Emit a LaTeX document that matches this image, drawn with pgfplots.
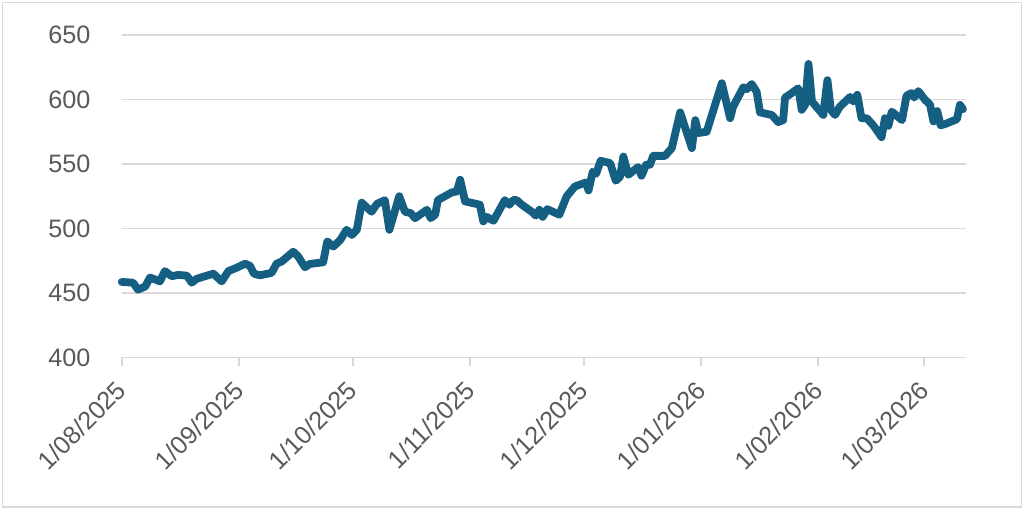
\documentclass[border=0pt]{standalone}
\usepackage{pgfplots}
\pgfplotsset{compat=1.18}
\usepackage{fontspec}
\setmainfont{Liberation Sans}
\definecolor{linec}{HTML}{156082}
\definecolor{gridc}{HTML}{D9D9D9}
\definecolor{labc}{HTML}{595959}
\begin{document}
\begin{tikzpicture}
\useasboundingbox (0,0) rectangle (512pt,254.5pt);
\draw[gridc, line width=0.6pt] (1.2pt,1pt) rectangle (510.6pt,253.4pt);
\begin{axis}[
  at={(60.85pt,75.75pt)}, anchor=south west,
  scale only axis, width=422.15pt, height=161.25pt,
  xmin=0, xmax=223, ymin=400, ymax=650,
  clip=false,
  axis x line*=bottom,
  axis y line*=left,
  x axis line style={draw=gridc, line width=0.9pt, -},
  y axis line style={draw=none},
  ytick={400,450,...,650},
  ymajorgrids, grid style={gridc, line width=0.9pt},
  xtick={0,31,61,92,122,153,184,212},
  xticklabels={1/08/2025,1/09/2025,1/10/2025,1/11/2025,1/12/2025,1/01/2026,1/02/2026,1/03/2026},
  major x tick style={gridc, line width=0.9pt},
  tick align=outside, major tick length=4pt,
  ytick style={draw=none},
  /pgf/number format/assume math mode=true,
  ticklabel style={font=\fontsize{12.6}{14}\selectfont, text=labc},
  yticklabel style={anchor=east, inner sep=0pt, xshift=-11.5pt},
  xticklabel style={anchor=east, inner sep=0pt, yshift=-10pt, rotate=45},
  yticklabels={400,450,500,550,600,650},
]
\addplot[linec, line width=3.9pt, line join=round, line cap=round] coordinates {
(0,458.6) (3.0,458) (4.3,452.6) (6.2,455) (7.5,462) (10.1,459) (11.4,467) (13.2,463)
(14.9,464) (17.2,463.5) (18.5,458) (19.8,461) (24.2,465) (26.4,459) (28.2,467) (29.9,469)
(32.6,472.7) (33.9,471) (34.9,465) (36.5,463.7) (39.6,465.6) (40.9,472.7) (42.3,474.5)
(45.3,482) (46.6,478.4) (48.4,470) (49.7,472.5) (53.2,473.8) (54.3,490) (55.9,486)
(57.7,491) (59.4,499) (60.8,495) (62.1,499) (63.4,520) (66.0,513) (67.4,519) (69.5,522)
(70.7,499) (73.3,525) (74.8,513) (76.3,512) (77.5,508) (80.6,514.5) (81.6,508) (82.8,510.7)
(83.5,522) (87.2,528) (88.5,528.7) (89.4,537.8) (90.7,521) (93.8,519) (94.6,518.4)
(95.5,505.5) (96.4,509) (98.2,506) (101.2,522) (102.4,518.4) (103.4,522) (104.3,522)
(105.7,518.4) (108.3,513) (109.4,510) (110.3,514.5) (111.2,509) (112.4,515) (115.6,510.7)
(117.5,524.8) (119.7,532.6) (122.6,535.7) (123.3,529.5) (124.4,544) (125.3,542.4)
(126.5,552.5) (129.0,550.7) (130.5,537) (131.6,540) (132.5,555.8) (133.8,541.6)
(136.4,547.6) (137.3,540.9) (138.5,549.4) (139.5,549.4) (140.4,556.3) (143.5,556.3)
(145.3,562.3) (147.5,590) (150.6,562.3) (151.5,584) (152.3,574) (154.5,575) (158.5,612.6)
(160.7,585.5) (161.5,594.5) (164.2,609.5) (165.1,608) (166.4,612) (167.7,606) (168.6,590)
(171.7,588) (173.4,582.5) (174.7,584) (175.2,601.5) (176.5,604) (178.7,608.7) (179.6,592)
(180.5,595.8) (181.4,627.6) (182.3,598.5) (185.3,588) (186.4,615) (187.3,592) (188.4,588)
(189.7,594.5) (192.4,602) (193.2,598.5) (194.3,603.6) (195.4,585.5) (196.8,585.5)
(198.5,580) (200.7,570.8) (201.6,585.5) (202.5,579.6) (203.4,590.6) (206.1,584)
(207.3,603) (208.6,605) (209.3,601.5) (210.4,606.5) (212.2,599.7) (213.5,596) (214.4,583)
(215.4,591) (216.3,580) (217.5,581) (220.6,584.7) (221.4,595.8) (222.2,592.5)
};
\end{axis}
\end{tikzpicture}
\end{document}
